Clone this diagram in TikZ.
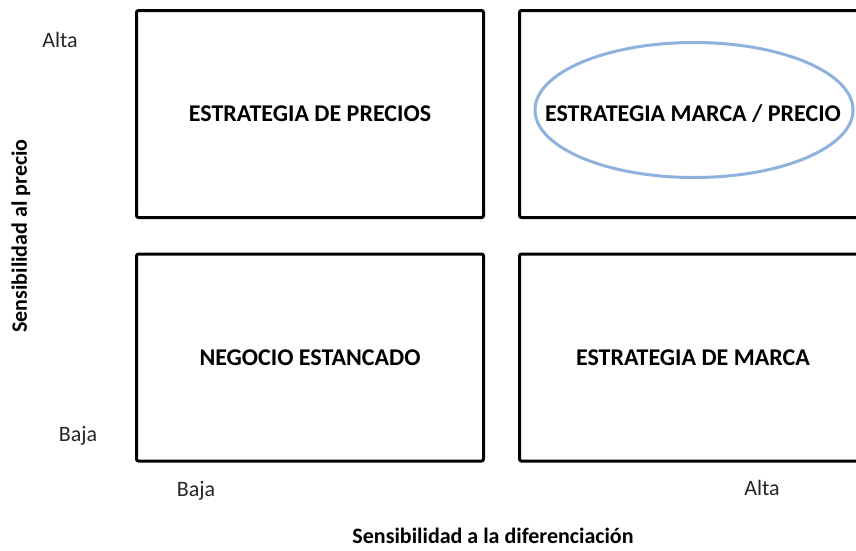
\documentclass[tikz,border=0pt]{standalone}
\usepackage{fontspec}
\setmainfont{Carlito}
\usetikzlibrary{shapes.geometric}
\definecolor{ovalblue}{RGB}{142,178,222}

\begin{document}
\begin{tikzpicture}[x=1pt,y=-1pt,semithick]

  \tikzstyle{quad}=[rectangle,draw,line width=3pt,rounded corners=2pt,
                    minimum width=347pt,minimum height=207pt,
                    font=\fontsize{24}{28}\selectfont\bfseries]
  \tikzstyle{level}=[font=\fontsize{22}{26}\selectfont,text=black!85]
  \tikzstyle{axis}=[font=\fontsize{22}{26}\selectfont\bfseries]

  \clip (0,0) rectangle (856,550);

  \node[quad] (precios)   at (310,114)   {ESTRATEGIA DE PRECIOS};
  \node[quad] (marcaprec) at (693,114)   {ESTRATEGIA MARCA / PRECIO};
  \node[quad] (estancado) at (310,357.5) {NEGOCIO ESTANCADO};
  \node[quad] (marca)     at (693,357.5) {ESTRATEGIA DE MARCA};

  \node[ellipse,draw=ovalblue,line width=3pt,
        minimum width=318pt,minimum height=135pt] (foco) at (694,110) {};

  \node[level] (yalta) at (60,40)  {Alta};
  \node[level] (ybaja) at (78,436) {Baja};
  \node[level] (xbaja) at (196,491) {Baja};
  \node[level] (xalta) at (762,488) {Alta};

  \node[axis,rotate=90] (ytitle) at (21,236) {Sensibilidad al precio};
  \node[axis]           (xtitle) at (493,536) {Sensibilidad a la diferenciación};
\end{tikzpicture}
\end{document}
